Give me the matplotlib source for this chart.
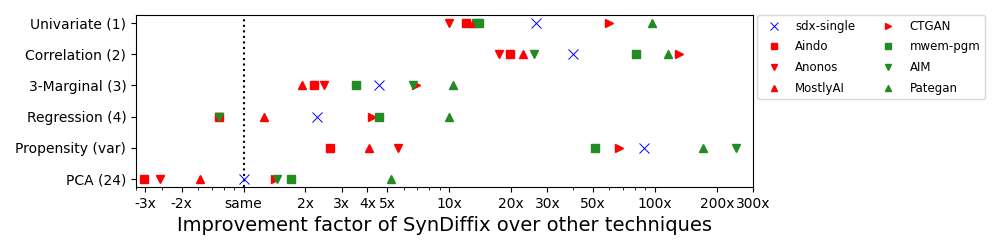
import matplotlib
matplotlib.use("Agg")
import matplotlib.pyplot as plt
from matplotlib.ticker import NullFormatter

# rows, top to bottom
measures = ['Univariate (1)', 'Correlation (2)', '3-Marginal (3)',
            'Regression (4)', 'Propensity (var)', 'PCA (24)']

# improvement factor of SynDiffix over each technique, per row
sdx_single = [26.5, 40.1, 4.54, 2.27, 88.7, 1.0]
aindo      = [12.05, 19.7, 2.21, 0.76, 2.62, 0.328]
anonos     = [9.93, 17.4, 2.45, 0.76, 5.61, 0.392]
mostlyai   = [13.0, 22.9, 1.93, 1.255, 4.09, 0.614]
ctgan      = [59.6, 131, 6.89, 4.21, 66.6, 1.43]
mwem_pgm   = [14.0, 81.1, 3.51, 4.54, 51.3, 1.70]
aim        = [13.5, 25.9, 6.64, 0.76, 248, 1.45]
pategan    = [96.4, 116, 10.4, 10.0, 171, 5.21]

tick_vals = [1/3, 1/2, 1, 2, 3, 4, 5, 10, 20, 30, 50, 100, 200, 300]
tick_labels = ['-3x', '-2x', 'same', '2x', '3x', '4x', '5x', '10x', '20x',
               '30x', '50x', '100x', '200x', '300x']

series = [
    ('sdx-single', sdx_single, 'x', 'blue'),
    ('Aindo', aindo, 's', 'red'),
    ('Anonos', anonos, 'v', 'red'),
    ('MostlyAI', mostlyai, '^', 'red'),
    ('CTGAN', ctgan, '>', 'red'),
    ('mwem-pgm', mwem_pgm, 's', 'forestgreen'),
    ('AIM', aim, 'v', 'forestgreen'),
    ('Pategan', pategan, '^', 'forestgreen'),
]

fig = plt.figure(figsize=(10, 2.5), dpi=100)
ax = fig.add_axes([0.136, 0.252, 0.617, 0.688])

ypos = list(range(len(measures)))
for name, vals, mk, col in series:
    if mk == 'x':
        ax.plot(vals, ypos, linestyle='none', marker=mk, color=col,
                markersize=7, markeredgewidth=0.7, label=name)
    else:
        ax.plot(vals, ypos, linestyle='none', marker=mk, color=col,
                markersize=5.5, label=name)

ax.axvline(1, color='black', linestyle=':', linewidth=1.5, zorder=0)

ax.set_xscale('log')
ax.set_xlim(0.3, 300)
ax.set_xticks(tick_vals, tick_labels)
ax.xaxis.set_minor_formatter(NullFormatter())
ax.set_yticks(ypos, measures)
ax.set_ylim(5.25, -0.25)
ax.tick_params(labelsize=10)
ax.set_xlabel('Improvement factor of SynDiffix over other techniques', fontsize=14)

ax.legend(ncol=2, loc='upper left', bbox_to_anchor=(1.007, 1.0), fontsize=8.5,
          columnspacing=1.8, borderaxespad=0, markerscale=0.8, labelspacing=0.65)

plt.savefig('out.png', dpi=100)
